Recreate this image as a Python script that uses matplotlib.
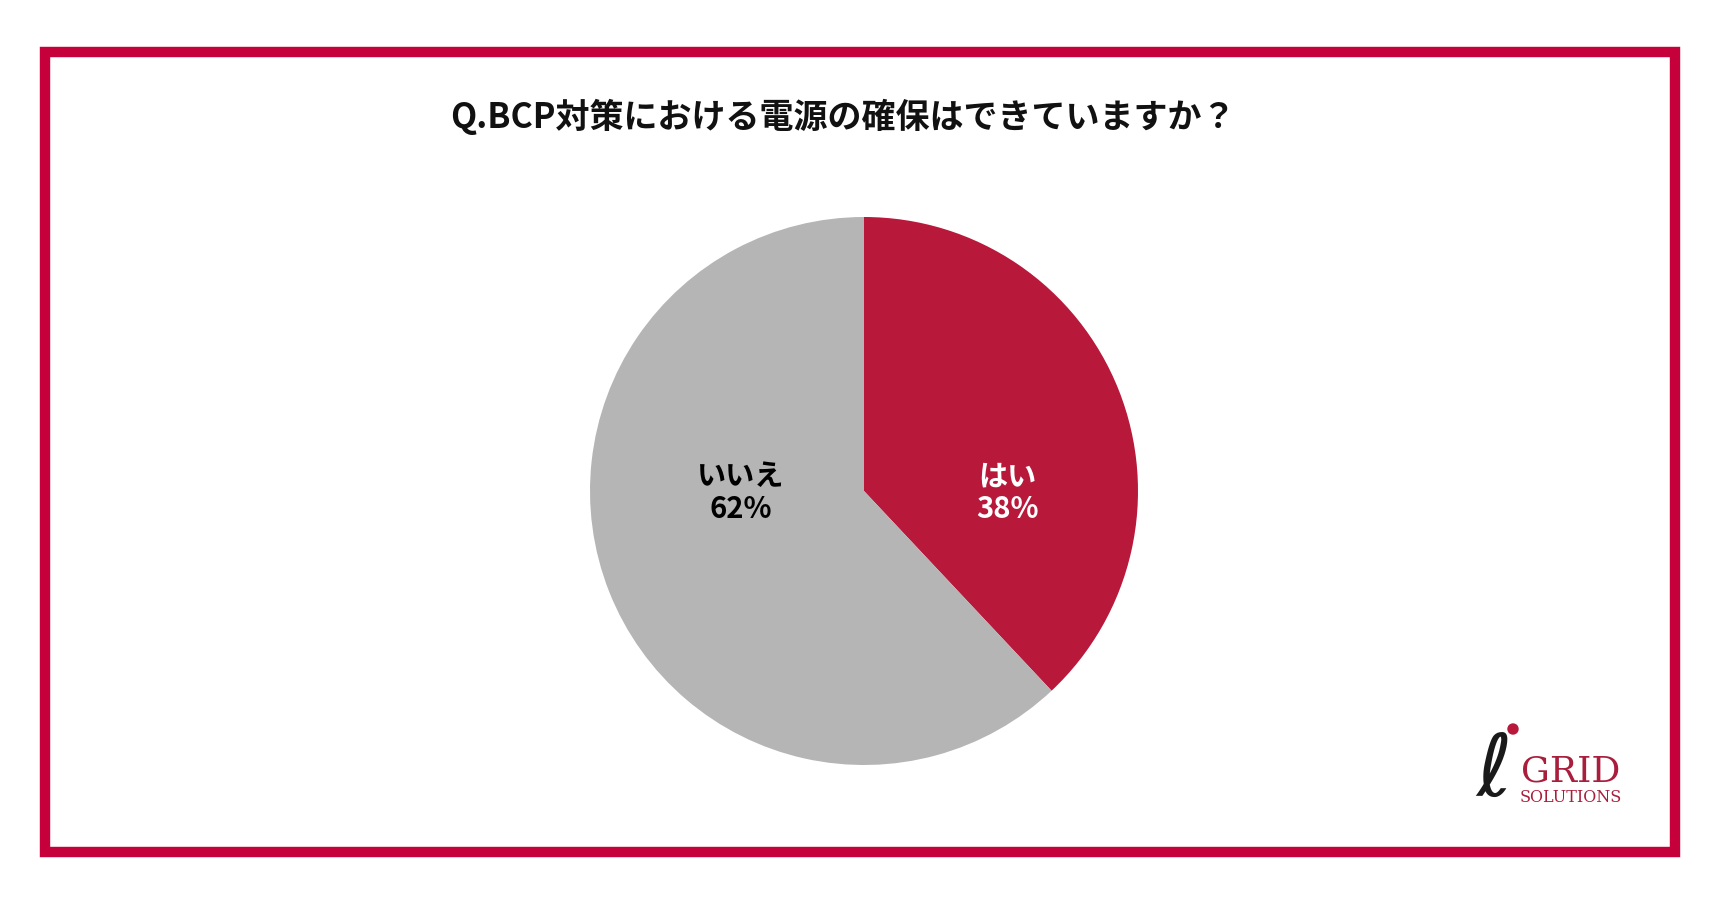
import matplotlib.pyplot as plt
from matplotlib.patches import Rectangle, Circle

plt.rcParams['font.family'] = ['Noto Sans CJK JP', 'DejaVu Sans']

title = "Q.BCP対策における電源の確保はできていますか？"
labels = ["はい", "いいえ"]
values = [38, 62]
colors = ["#B8183A", "#B4B5B4"]
text_colors = ["white", "black"]

W, H = 1723, 911
fig = plt.figure(figsize=(W / 100, H / 100), dpi=100)

# full-figure canvas in pixel units for frame, title, logo
bg = fig.add_axes([0, 0, 1, 1])
bg.set_xlim(0, W)
bg.set_ylim(H, 0)
bg.axis('off')

frame_col = "#C6003B"
bg.add_patch(Rectangle((45, 52), 1630, 800, fill=False, lw=7.5, edgecolor=frame_col))

bg.text(843, 117, title, ha='center', va='center', fontsize=24.5, fontweight='bold', color='#111111')

# logo
bg.text(1571, 772, "GRID", ha='center', va='center', fontsize=26, family='DejaVu Serif',
        color='#A91E3C')
bg.text(1571, 797, "SOLUTIONS", ha='center', va='center', fontsize=11.5, family='DejaVu Serif',
        color='#A91E3C')
bg.text(1494, 772, "ℓ", ha='center', va='center', fontsize=62, family=['DejaVu Sans'],
        style='oblique', color='#1A1A1A')
bg.add_patch(Circle((1513, 729), 5, color='#B8183A'))

# pie
cx, cy, r = 864, 491, 274
ax = fig.add_axes([(cx - r) / W, (H - cy - r) / H, 2 * r / W, 2 * r / H])
ax.pie(values, colors=colors, startangle=90, counterclock=False, radius=1,
       wedgeprops=dict(linewidth=0))
ax.set_xlim(-1, 1)
ax.set_ylim(-1, 1)
ax.set_aspect('equal')
ax.axis('off')

label_pos = [(0.525, -0.005), (-0.45, -0.005)]
for lab, v, (x, y), tc in zip(labels, values, label_pos, text_colors):
    ax.text(x, y, f"{lab}\n{v}%", ha='center', va='center', fontsize=21,
            fontweight='bold', color=tc, linespacing=1.1)

fig.savefig("out.png", dpi=100)
